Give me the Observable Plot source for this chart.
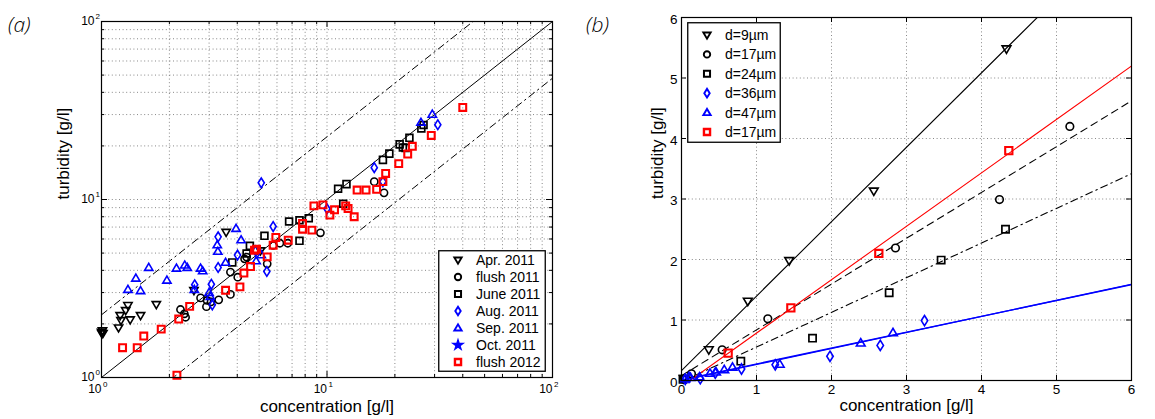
<!DOCTYPE html>
<html><head><meta charset="utf-8">
<script src="https://cdn.jsdelivr.net/npm/d3@7"></script>
<script src="https://cdn.jsdelivr.net/npm/@observablehq/plot@0.6"></script>
<style>
body{margin:0;background:#fff;}
#wrap{position:relative;width:1155px;height:419px;overflow:hidden;font-family:"Liberation Sans",Arial,sans-serif;}
.panel{position:absolute;top:0;}
.tag{position:absolute;font-family:"Open Sans",sans-serif;font-style:italic;font-weight:300;font-size:21px;line-height:1;}
.leg{position:absolute;}
</style></head><body><div id="wrap"></div>
<script>
// ---------- Panel (a) data: [concentration, turbidity] ----------
const apr2011 = [[1.0,1.8],[1.01,1.83],[1.015,1.77],[1.005,1.76],[1.19,1.90],[1.22,2.09],[1.21,2.23],[1.28,2.38],[1.31,2.54],[1.34,2.11],[1.49,2.23],[1.75,2.57],[2.57,3.08],[3.57,6.55],[5.07,5.15]];
const flush2011 = [[2.24,2.41],[2.33,2.28],[2.36,2.18],[2.75,2.80],[2.92,2.50],[2.94,2.71],[3.06,2.66],[3.31,2.73],[3.73,2.93],[3.73,3.91],[4.02,3.66],[4.31,4.64],[4.4,4.75],[5.43,4.35],[5.77,5.52],[6.18,5.68],[6.7,5.68],[9.35,6.5],[16.2,12.6],[17.9,10.9]];
const june2011 = [[3.80,4.43],[4.40,4.97],[4.55,5.49],[5.28,6.25],[6.79,7.52],[7.55,7.65],[8.3,7.85],[7.55,5.86],[11.2,11.5],[12.2,12.2],[11.8,9.46],[17.7,16.7],[18.9,18.1],[21.0,20.4],[21.7,19.6],[22.3,19.5],[23.2,22.2],[26.2,25.1],[26.8,26.2]];
const aug2011 = [[5.11,12.4],[5.77,7.05],[3.29,6.17],[3.29,4.15],[4.01,4.87],[4.82,5.15],[5.41,3.94],[3.07,3.34],[2.59,3.32],[3.10,2.56],[16.2,15.1],[17.7,12.6],[10.0,8.87],[31.0,26.3]];
const sep2011 = [[1.31,3.12],[1.42,3.61],[1.49,3.07],[1.62,4.15],[1.95,3.52],[2.15,4.11],[2.34,4.28],[2.40,4.15],[2.75,4.11],[2.81,3.97],[2.58,3.12],[3.0,3.0],[3.04,2.85],[3.26,5.56],[3.28,5.11],[3.55,4.43],[3.95,6.87],[4.16,5.93],[4.85,4.52],[5.11,4.89],[26.1,27.1],[29.3,30.1]];
const oct2011 = [];
const flush2012 = [[1.24,1.47],[1.44,1.47],[1.54,1.71],[1.84,1.87],[2.20,2.13],[2.46,2.51],[2.16,1.03],[3.55,3.09],[4.11,3.23],[4.28,3.86],[4.58,4.2],[4.77,5.19],[4.87,5.26],[5.43,4.76],[5.77,5.54],[5.93,6.12],[6.73,5.91],[7.79,7.33],[7.79,6.81],[8.57,6.73],[8.75,9.21],[9.59,9.33],[10.3,8.17],[10.8,8.75],[12.1,9.21],[12.4,8.9],[13.2,8.0],[13.6,11.3],[14.9,11.3],[16.6,11.4],[17.7,12.6],[18.2,14.0],[20.8,15.9],[22.8,18.0],[23.9,19.9],[29.0,22.9],[40.0,32.9]];
const seriesA = ["Apr. 2011","flush 2011","June 2011","Aug. 2011","Sep. 2011","Oct. 2011","flush 2012"];
// ratio lines turbidity = k * concentration
const ratioK = [1, 2.25, 0.48];
const logMajor = [1, 10, 100];
const logGrid = [1,2,3,4,5,6,7,8,9,10,20,30,40,50,60,70,80,90,100];

// ---------- Panel (b) data ----------
const d9 = [[0.03,0.03],[0.364,0.507],[0.884,1.31],[1.436,1.98],[2.564,3.13],[4.333,5.48]];
const d17 = [[0.03,0.02],[0.133,0.11],[0.542,0.507],[1.151,1.02],[2.853,2.19],[4.24,2.99],[5.178,4.2]];
const d24 = [[0.02,0.02],[0.791,0.32],[1.747,0.70],[2.769,1.45],[3.462,1.99],[4.32,2.5]];
const d36 = [[0.05,0.02],[0.1,0.05],[0.25,0.03],[0.45,0.12],[0.8,0.19],[1.25,0.26],[1.98,0.40],[2.65,0.58],[3.24,0.99]];
const d47 = [[0.05,0.03],[0.12,0.05],[0.24,0.06],[0.38,0.12],[0.46,0.14],[0.57,0.18],[0.68,0.22],[1.31,0.27],[2.39,0.62],[2.82,0.79]];
const d17red = [[0.622,0.452],[1.458,1.2],[2.631,2.1],[4.364,3.8]];
const seriesB = ["d=9µm","d=17µm","d=24µm","d=36µm","d=47µm","d=17µm"];
const fitIntercept = [0.165, 0.08, -0.02, 0, 0.012, -0.1];
const fitSlope = [1.23, 0.757, 0.573, 0.265, 0.262, 0.883];
const linTicks = [0,1,2,3,4,5,6];

// ---------- symbols ----------
function mk(f){return {draw(c,size){const s=Math.sqrt(size/Math.PI); f(c,s);}};}
const symTriDown = mk((c,s)=>{c.moveTo(-1.15*s,-0.8*s);c.lineTo(1.15*s,-0.8*s);c.lineTo(0,1.15*s);c.closePath();});
const symTriUp = mk((c,s)=>{c.moveTo(-1.15*s,0.8*s);c.lineTo(1.15*s,0.8*s);c.lineTo(0,-1.15*s);c.closePath();});
const symSquare = mk((c,s)=>{c.rect(-0.95*s,-0.95*s,1.9*s,1.9*s);});
const symCircle = mk((c,s)=>{c.moveTo(s,0);c.arc(0,0,s,0,2*Math.PI);});
const symDiamond = mk((c,s)=>{c.moveTo(0,-1.35*s);c.lineTo(0.85*s,0);c.lineTo(0,1.35*s);c.lineTo(-0.85*s,0);c.closePath();});
const symStar = d3.symbolStar;

const BLUE="#0000ff", RED="#ff0000";
const styleA = [
  {sym:symTriDown,color:"black",sw:1.6,fill:false},
  {sym:symCircle,color:"black",sw:1.6,fill:false},
  {sym:symSquare,color:"black",sw:1.7,fill:false},
  {sym:symDiamond,color:BLUE,sw:1.6,fill:false},
  {sym:symTriUp,color:BLUE,sw:1.6,fill:false},
  {sym:symStar,color:BLUE,sw:1,fill:true},
  {sym:symSquare,color:RED,sw:2.1,fill:false}
];
const dataA = [apr2011,flush2011,june2011,aug2011,sep2011,oct2011,flush2012];
const styleB = [styleA[0],styleA[1],styleA[2],styleA[3],styleA[4],styleA[6]];
const dataB = [d9,d17,d24,d36,d47,d17red];

const FONT = '"Liberation Sans", Arial, sans-serif';
const GRID = {stroke:"#888", strokeOpacity:1, strokeWidth:1, strokeDasharray:"1,2.6"};

function dots(data, st, r){
  return Plot.dot(data, {x:d=>d[0], y:d=>d[1], symbol:st.sym, r,
    stroke: st.color, strokeWidth: st.sw, fill: st.fill ? st.color : "none"});
}
function boxTicks(xs, ys, fw, fh, len, extra){
  return [
    Plot.tickX(xs, {x:d=>d, stroke:"black", insetTop: fh-len, ...extra}),
    Plot.tickX(xs, {x:d=>d, stroke:"black", insetBottom: fh-len, ...extra}),
    Plot.tickY(ys, {y:d=>d, stroke:"black", insetRight: fw-len, ...extra}),
    Plot.tickY(ys, {y:d=>d, stroke:"black", insetLeft: fw-len, ...extra})
  ];
}

const wrap = document.getElementById("wrap");

// ---------- Panel (a) ----------
const WA=575, HA=419, mlA=101, mrA=23, mtA=21, mbA=42;
const fwA=WA-mlA-mrA, fhA=HA-mtA-mbA;
const ratioLines = ratioK.map(k => logMajor.map(x => ({x, y:k*x})));
const minorLog = logGrid.filter(v => !logMajor.includes(v));
const plotA = Plot.plot({
  width:WA, height:HA, marginLeft:mlA, marginRight:mrA, marginTop:mtA, marginBottom:mbA,
  x:{type:"log", domain:[1,100], axis:null},
  y:{type:"log", domain:[1,100], axis:null},
  style:{fontFamily:FONT, fontSize:"12px", background:"white", overflow:"visible"},
  marks:[
    Plot.gridX(logGrid, GRID),
    Plot.gridY(logGrid, GRID),
    Plot.line(ratioLines[0], {x:"x", y:"y", stroke:"black", strokeWidth:1, clip:true}),
    Plot.line(ratioLines[1], {x:"x", y:"y", stroke:"black", strokeWidth:1, strokeDasharray:"7,4,1.5,4", clip:true}),
    Plot.line(ratioLines[2], {x:"x", y:"y", stroke:"black", strokeWidth:1, strokeDasharray:"7,4,1.5,4", clip:true}),
    ...dataA.map((d,i)=>dots(d, styleA[i], 3.6)),
    Plot.frame({stroke:"black", strokeWidth:1.2}),
    ...boxTicks(logMajor, logMajor, fwA, fhA, 6, {}),
    ...boxTicks(minorLog, minorLog, fwA, fhA, 3, {}),
    Plot.text(logMajor, {x:d=>d, text:()=>"10", frameAnchor:"bottom", dy:15, dx:0, textAnchor:"end", fontSize:12}),
    Plot.text(logMajor, {x:d=>d, text:d=>String(Math.round(Math.log10(d))), frameAnchor:"bottom", dy:9.5, dx:1.5, textAnchor:"start", fontSize:8}),
    Plot.text(logMajor, {y:d=>d, text:()=>"10", frameAnchor:"left", dx:-7, dy:0, textAnchor:"end", fontSize:12}),
    Plot.text(logMajor, {y:d=>d, text:d=>String(Math.round(Math.log10(d))), frameAnchor:"left", dx:-6, dy:-5, textAnchor:"start", fontSize:8}),
    Plot.text(["concentration [g/l]"], {frameAnchor:"bottom", dy:34, fontSize:17}),
    Plot.text(["turbidity [g/l]"], {frameAnchor:"left", dx:-38, rotate:-90, fontSize:17})
  ]
});
plotA.classList.add("panel"); plotA.style.left="0px";
wrap.appendChild(plotA);

// ---------- Panel (b) ----------
const WB=580, HB=419, mlB=106, mrB=24, mtB=17, mbB=39;
const fwB=WB-mlB-mrB, fhB=HB-mtB-mbB;
const xDomB=[0,6];
const fits = fitSlope.map((b,i)=> xDomB.map(x=>({x, y: fitIntercept[i] + b*x})));
const fitStyle = [
  {stroke:"black", dash:null, w:1.1},
  {stroke:"black", dash:"7,5", w:1.1},
  {stroke:"black", dash:"7,4,1.5,4", w:1.1},
  {stroke:BLUE, dash:null, w:1.3},
  {stroke:BLUE, dash:null, w:1.3},
  {stroke:RED, dash:null, w:1.1}
];
const plotB = Plot.plot({
  width:WB, height:HB, marginLeft:mlB, marginRight:mrB, marginTop:mtB, marginBottom:mbB,
  x:{domain:xDomB, axis:null},
  y:{domain:[0,6], axis:null},
  style:{fontFamily:FONT, fontSize:"12px", background:"white", overflow:"visible"},
  marks:[
    Plot.gridX(linTicks, GRID),
    Plot.gridY(linTicks, GRID),
    ...fits.map((f,i)=>Plot.line(f, {x:"x", y:"y", stroke:fitStyle[i].stroke, strokeWidth:fitStyle[i].w, strokeDasharray:fitStyle[i].dash, clip:true})),
    ...dataB.map((d,i)=>dots(d, styleB[i], 3.8)),
    Plot.frame({stroke:"black", strokeWidth:1.2}),
    ...boxTicks(linTicks, linTicks, fwB, fhB, 5, {}),
    Plot.text(linTicks, {x:d=>d, text:d=>String(d), frameAnchor:"bottom", dy:13, fontSize:13.5}),
    Plot.text(linTicks, {y:d=>d, text:d=>String(d), frameAnchor:"left", dx:-4, dy:2, textAnchor:"end", fontSize:13.5}),
    Plot.text(["concentration [g/l]"], {frameAnchor:"bottom", dy:30, fontSize:17}),
    Plot.text(["turbidity [g/l]"], {frameAnchor:"left", dx:-24, rotate:-90, fontSize:17})
  ]
});
plotB.classList.add("panel"); plotB.style.left="575px";
wrap.appendChild(plotB);

// ---------- legends ----------
function legend(names, styles, left, top, w, h, rowTop, rowStep, r){
  const svg = d3.create("svg").attr("class","leg").attr("width",w).attr("height",h)
    .style("left",left+"px").style("top",top+"px").style("font-family",FONT);
  svg.append("rect").attr("x",0.75).attr("y",0.75).attr("width",w-1.5).attr("height",h-1.5)
    .attr("fill","white").attr("stroke","black").attr("stroke-width",1.3);
  names.forEach((n,i)=>{
    const st = styles[i], y = rowTop + i*rowStep;
    svg.append("path").attr("transform",`translate(20,${y})`)
      .attr("d", d3.symbol().type(st.sym).size(Math.PI*r*r)())
      .attr("fill", st.fill ? st.color : "none").attr("stroke", st.color).attr("stroke-width", st.sw+0.3);
    svg.append("text").attr("x",38).attr("y",y).attr("dy","0.36em").attr("font-size",14).text(n);
  });
  wrap.appendChild(svg.node());
}
legend(seriesA, styleA, 438, 250, 108, 122, 10, 17, 3.2);
legend(seriesB, styleB, 687, 22, 94, 121, 13, 19.4, 3.2);

// panel tags
[["(a)",8,14],["(b)",586,14]].forEach(([t,l,tp])=>{
  const d=document.createElement("div"); d.className="tag"; d.textContent=t;
  d.style.left=l+"px"; d.style.top=tp+"px"; wrap.appendChild(d);
});
</script>
</body></html>
